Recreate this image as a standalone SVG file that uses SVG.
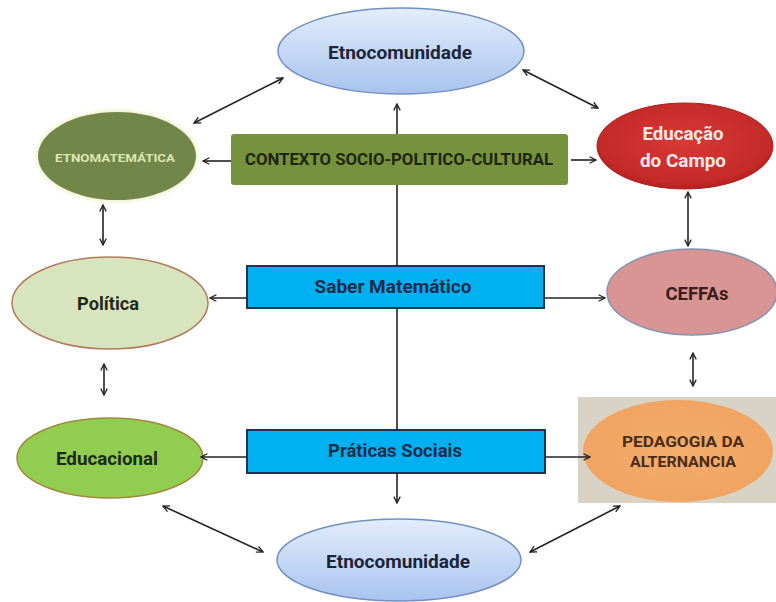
<svg xmlns="http://www.w3.org/2000/svg" width="776" height="602" viewBox="0 0 776 602">
<defs>
<linearGradient id="gBlue" x1="0" y1="0" x2="0" y2="1"><stop offset="0" stop-color="#e3edfc"/><stop offset="1" stop-color="#a8c3ee"/></linearGradient>
<radialGradient id="gRed" cx="0.5" cy="0.45" r="0.6"><stop offset="0" stop-color="#d63a37"/><stop offset="0.8" stop-color="#c42a28"/><stop offset="1" stop-color="#a5191a"/></radialGradient>
<radialGradient id="gOrange" cx="0.5" cy="0.5" r="0.6"><stop offset="0" stop-color="#f4ad6c"/><stop offset="1" stop-color="#f0a260"/></radialGradient>
<filter id="glow" x="-10%" y="-10%" width="120%" height="120%"><feGaussianBlur stdDeviation="2"/></filter>
<marker id="ah" viewBox="0 0 10 10" refX="9" refY="5" markerWidth="8" markerHeight="8" orient="auto-start-reverse" markerUnits="userSpaceOnUse"><path d="M1,1 L9,5 L1,9" fill="none" stroke="#222" stroke-width="1.6"/></marker>
</defs>
<style>
.t{font-family:Roboto,"Open Sans","Liberation Sans",sans-serif;font-weight:700;text-anchor:middle}
.c{stroke:#222;stroke-width:1.6;fill:none}
.a{marker-end:url(#ah)}
.b{marker-start:url(#ah);marker-end:url(#ah)}
.box{fill:#00b0f0;stroke:#1f3350;stroke-width:2}
</style>
<rect width="776" height="602" fill="#ffffff"/>
<g id="etno-top">
<ellipse cx="401" cy="51" rx="123" ry="43" fill="url(#gBlue)" stroke="#7390c0" stroke-width="1.5"/>
<text class="t" x="400" y="59" font-size="18" fill="#1c2538" textLength="144" lengthAdjust="spacingAndGlyphs">Etnocomunidade</text>
</g>
<g id="etnomatematica">
<ellipse cx="117" cy="156" rx="81" ry="46" fill="#eef3cf" filter="url(#glow)"/>
<ellipse cx="117" cy="156" rx="79" ry="44" fill="#73864a"/>
<text class="t" x="115" y="162" font-size="11" fill="#d9e6b0" textLength="120" lengthAdjust="spacingAndGlyphs">ETNOMATEMÁTICA</text>
</g>
<g id="contexto">
<rect x="231" y="134" width="337" height="51" rx="3" fill="#76923c"/>
<text class="t" x="399" y="165" font-size="17" fill="#1e2412" textLength="308" lengthAdjust="spacingAndGlyphs">CONTEXTO SOCIO-POLITICO-CULTURAL</text>
</g>
<g id="educacao-campo">
<ellipse cx="685" cy="146" rx="88" ry="43" fill="url(#gRed)" stroke="#b02020" stroke-width="1"/>
<text class="t" x="683" y="140" font-size="18" fill="#fbe8e8" textLength="81" lengthAdjust="spacingAndGlyphs">Educação</text>
<text class="t" x="683" y="167" font-size="18" fill="#fbe8e8" textLength="86" lengthAdjust="spacingAndGlyphs">do Campo</text>
</g>
<g id="politica">
<ellipse cx="110" cy="303" rx="98" ry="46" fill="#d7e4bd" stroke="#b47a5c" stroke-width="1.5"/>
<text class="t" x="108" y="310" font-size="18" fill="#1f2a1a" textLength="62" lengthAdjust="spacingAndGlyphs">Política</text>
</g>
<g id="saber">
<rect class="box" x="247" y="266" width="297" height="42"/>
<text class="t" x="393" y="293" font-size="18" fill="#1c2c4a" textLength="157" lengthAdjust="spacingAndGlyphs">Saber Matemático</text>
</g>
<g id="ceffas">
<ellipse cx="692" cy="292" rx="85" ry="43" fill="#d99594" stroke="#8294b4" stroke-width="1.5"/>
<text class="t" x="697" y="300" font-size="18" fill="#3a1c1c" textLength="63" lengthAdjust="spacingAndGlyphs">CEFFAs</text>
</g>
<g id="educacional">
<ellipse cx="110" cy="458" rx="93" ry="40" fill="#92cc50" stroke="#a08a3c" stroke-width="1.5"/>
<text class="t" x="107" y="465" font-size="18" fill="#1a2a16" textLength="102" lengthAdjust="spacingAndGlyphs">Educacional</text>
</g>
<g id="praticas">
<rect class="box" x="247" y="430" width="298" height="43"/>
<text class="t" x="395" y="457" font-size="18" fill="#1c2c4a" textLength="134" lengthAdjust="spacingAndGlyphs">Práticas Sociais</text>
</g>
<g id="pedagogia">
<rect x="578" y="397" width="198" height="106" fill="#d8d3c5"/>
<ellipse cx="678" cy="451" rx="95" ry="51" fill="url(#gOrange)"/>
<text class="t" x="683" y="447" font-size="14" fill="#4a2c14" textLength="122" lengthAdjust="spacingAndGlyphs">PEDAGOGIA DA</text>
<text class="t" x="683" y="467" font-size="14" fill="#4a2c14" textLength="106" lengthAdjust="spacingAndGlyphs">ALTERNANCIA</text>
</g>
<g id="etno-bottom">
<ellipse cx="399" cy="560" rx="122" ry="41" fill="url(#gBlue)" stroke="#7390c0" stroke-width="1.5"/>
<text class="t" x="398" y="568" font-size="18" fill="#1c2538" textLength="144" lengthAdjust="spacingAndGlyphs">Etnocomunidade</text>
</g>
<g id="connectors">
<line class="c b" x1="283" y1="78" x2="194" y2="123"/>
<line class="c b" x1="523" y1="70" x2="598" y2="108"/>
<line class="c a" x1="231" y1="161" x2="203" y2="161"/>
<line class="c a" x1="571" y1="160" x2="596" y2="160"/>
<line class="c a" x1="397" y1="134" x2="397" y2="104"/>
<line class="c" x1="397" y1="185" x2="397" y2="266"/>
<line class="c" x1="397" y1="308" x2="397" y2="430"/>
<line class="c a" x1="397" y1="473" x2="397" y2="503"/>
<line class="c a" x1="247" y1="298" x2="210" y2="298"/>
<line class="c a" x1="544" y1="298" x2="605" y2="298"/>
<line class="c a" x1="247" y1="457" x2="201" y2="457"/>
<line class="c a" x1="545" y1="457" x2="590" y2="457"/>
<line class="c b" x1="103" y1="205" x2="103" y2="245"/>
<line class="c b" x1="104" y1="364" x2="104" y2="395"/>
<line class="c b" x1="688" y1="192" x2="688" y2="246"/>
<line class="c b" x1="693" y1="353" x2="693" y2="386"/>
<line class="c b" x1="163" y1="506" x2="263" y2="552"/>
<line class="c b" x1="530" y1="552" x2="620" y2="506"/>
</g>
</svg>
